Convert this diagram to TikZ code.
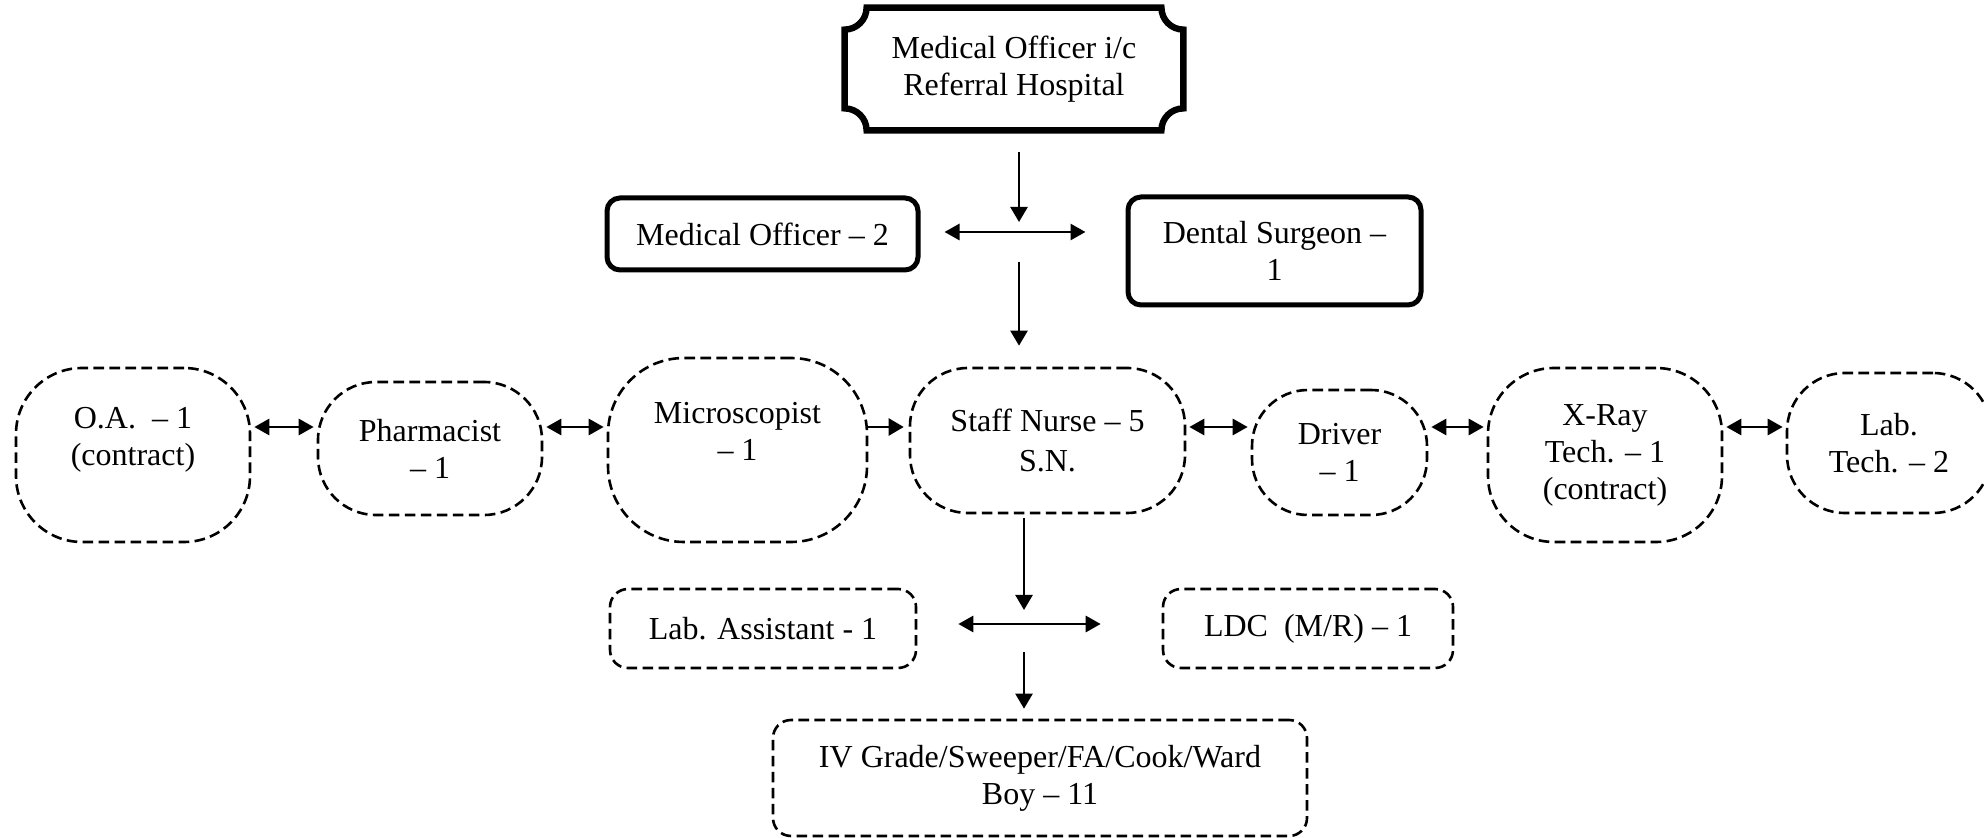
\documentclass[tikz,border=0pt]{standalone}
\usepackage{fontspec}
\setmainfont{Liberation Serif}
\usetikzlibrary{arrows.meta}

\begin{document}
\begin{tikzpicture}[x=0.5pt, y=-0.5pt,
    every node/.style={align=center, inner sep=0pt, font=\fontsize{16pt}{18.5pt}\selectfont},
    boldbox/.style={draw, line width=2.5pt, rounded corners=6.5pt},
    blob/.style={draw, line width=1.3pt, dash pattern=on 5.3pt off 2.7pt, rounded corners=29pt},
    dbox/.style={draw, line width=1.3pt, dash pattern=on 5.3pt off 2.7pt, rounded corners=9pt},
    arr/.style={-{Triangle[length=7.5pt,width=8.5pt]}, line width=1.2pt},
    darr/.style={{Triangle[length=7.5pt,width=8pt]}-{Triangle[length=7.5pt,width=8pt]}, line width=1.4pt}]
\useasboundingbox (0,0) rectangle (1984,838);

% Head of the hospital
\node[minimum width=169pt, minimum height=61pt] (moic) at (1014,69) {Medical Officer i/c\\Referral Hospital};
\draw[line width=3.2pt] ([xshift=11pt]moic.north west) -- ([xshift=-11pt]moic.north east)
    arc[start angle=180, end angle=90, radius=22] -- ([yshift=11pt]moic.south east)
    arc[start angle=270, end angle=180, radius=22] -- ([xshift=11pt]moic.south west)
    arc[start angle=0, end angle=-90, radius=22] -- ([yshift=-11pt]moic.north west)
    arc[start angle=90, end angle=0, radius=22] -- cycle;

% Officers
\node[boldbox, minimum width=155.5pt, minimum height=36pt] (mo) at (762.5,234) {Medical Officer -- 2};
\node[boldbox, minimum width=146.5pt, minimum height=54pt] (ds) at (1274.5,251) {Dental Surgeon --\\1};

% Middle row
\node[blob, rounded corners=33pt, minimum width=117pt, minimum height=87pt] (oa) at (133,455) {O.A.~ -- 1\\(contract)\\~};
\node[blob, minimum width=112pt, minimum height=66.5pt] (ph) at (430,448.5) {Pharmacist\\-- 1};
\node[blob, rounded corners=38pt, minimum width=129.5pt, minimum height=92pt] (mi) at (737.5,450) {Microscopist\\-- 1\\~};
\node[blob, minimum width=137.5pt, minimum height=72.5pt, font=\fontsize{16pt}{20pt}\selectfont] (sn) at (1047.5,440.5) {Staff Nurse -- 5\\S.N.};
\node[blob, rounded corners=28pt, minimum width=87.5pt, minimum height=62.5pt] (dr) at (1339.5,452.5) {Driver\\-- 1};
\node[blob, rounded corners=33pt, minimum width=117pt, minimum height=87pt] (xr) at (1605,455) {X-Ray\\Tech. -- 1\\(contract)};
\node[blob, minimum width=102pt, minimum height=70pt] (lt) at (1889,443) {Lab.\\Tech. -- 2};

% Lower staff
\node[dbox, minimum width=153pt, minimum height=39.5pt] (la) at (763,628.5) {Lab. Assistant - 1};
\node[dbox, minimum width=145pt, minimum height=39.5pt] (ldc) at (1308,628.5) {LDC~ (M/R) -- 1};
\node[dbox, minimum width=267pt, minimum height=58pt] (iv) at (1040,778) {IV Grade/Sweeper/FA/Cook/Ward\\Boy -- 11};

% Connectors
\coordinate (hubA) at (1019,232);
\coordinate (hubB) at (1024,624);
\coordinate (rowline) at (0,427);

\draw[arr, shorten <=11pt, shorten >=5pt] (hubA |- moic.south) -- (hubA);
\draw[darr, shorten <=12pt, shorten >=20pt] (mo.east |- hubA) -- (ds.west |- hubA);
\draw[arr, shorten <=15pt, shorten >=10.5pt] (hubA) -- (hubA |- sn.north);

\foreach \a/\b in {oa/ph, ph/mi, sn/dr, dr/xr, xr/lt}
    \draw[darr, shorten <=1.5pt, shorten >=1.5pt] (\a.east |- rowline) -- (\b.west |- rowline);
\draw[arr, shorten >=2.5pt] (mi.east |- rowline) -- (sn.west |- rowline);

\draw[arr, shorten <=2pt, shorten >=7pt] (hubB |- sn.south) -- (hubB);
\draw[darr, shorten <=20.5pt, shorten >=30.5pt] (la.east |- hubB) -- (ldc.west |- hubB);
\draw[arr, shorten <=14pt, shorten >=5pt] (hubB) -- (hubB |- iv.north);
\end{tikzpicture}
\end{document}
